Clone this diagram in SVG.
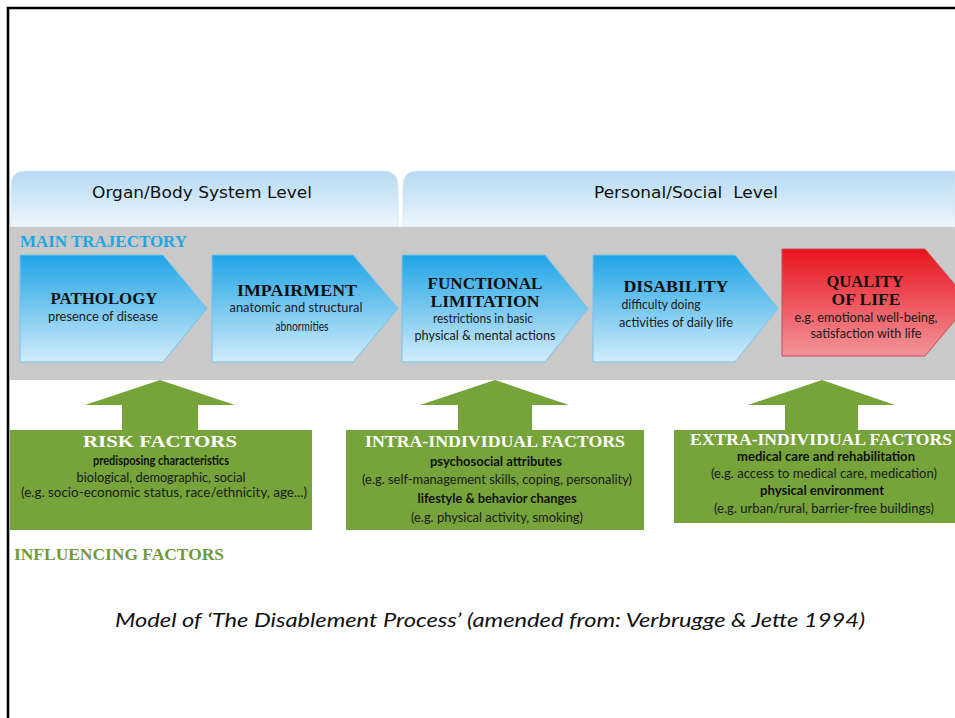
<svg xmlns="http://www.w3.org/2000/svg" width="955" height="718" viewBox="0 0 955 718">
<defs>
<linearGradient id="hdr" x1="0" y1="0" x2="0" y2="1"><stop offset="0" stop-color="#b5daf3"/><stop offset="1" stop-color="#eef6fc"/></linearGradient>
<linearGradient id="blu" x1="0" y1="0" x2="0" y2="1"><stop offset="0" stop-color="#1ea4e6"/><stop offset="1" stop-color="#d2ecfa"/></linearGradient>
<linearGradient id="red" x1="0" y1="0" x2="0" y2="1"><stop offset="0" stop-color="#e8141e"/><stop offset="1" stop-color="#f3959b"/></linearGradient>
</defs>
<style>
.hd{font-family:"DejaVu Sans",Verdana,sans-serif;font-size:15.5px;fill:#111;text-anchor:middle}
.tt{font-family:"Liberation Serif","Times New Roman",serif;font-weight:bold;font-size:17px;text-anchor:middle;fill:#111}
.sb{font-family:Lato,"Liberation Sans",sans-serif;font-size:13px;text-anchor:middle;fill:#1a1a1a}
.bd{font-family:Lato,"Liberation Sans",sans-serif;font-size:13px;font-weight:bold;text-anchor:middle;fill:#111}
.wt{fill:#ffffff}
.cb{fill:url(#blu);stroke:#74c2ea;stroke-width:1}
.cr{fill:url(#red);stroke:#cc4b55;stroke-width:1}
.gr{fill:#76a33a}
.lb{font-family:"Liberation Serif","Times New Roman",serif;font-weight:bold;font-size:16px}
</style>
<rect x="0" y="0" width="955" height="718" fill="#ffffff"/>
<path d="M8 718 V8 H955" fill="none" stroke="#000" stroke-width="2.6"/>

<g id="header-organ">
<path d="M11 227 V186 Q11 171 26 171 H383 Q398 171 398 186 V227 Z" fill="url(#hdr)" stroke="#d6e8f4" stroke-width="1"/>
<text class="hd" x="202" y="198" textLength="220" lengthAdjust="spacingAndGlyphs">Organ/Body System Level</text>
</g>
<g id="header-personal">
<path d="M403 227 V186 Q403 171 418 171 H955 V227 Z" fill="url(#hdr)" stroke="#d6e8f4" stroke-width="1"/>
<text class="hd" x="686" y="198" textLength="184" lengthAdjust="spacingAndGlyphs" xml:space="preserve">Personal/Social  Level</text>
</g>

<g id="main-band">
<rect x="10" y="227" width="945" height="153" fill="#c9c9c9"/>
<text class="lb" x="20" y="247" fill="#1fa6e0" textLength="167" lengthAdjust="spacingAndGlyphs">MAIN TRAJECTORY</text>
</g>

<g id="pathology">
<path class="cb" d="M20 255 H163 L207 308.5 L163 362 H20 Z"/>
<text class="tt" x="104" y="304" textLength="107" lengthAdjust="spacingAndGlyphs">PATHOLOGY</text>
<text class="sb" x="103" y="321" textLength="110" lengthAdjust="spacingAndGlyphs">presence of disease</text>
</g>
<g id="impairment">
<path class="cb" d="M212 255 H353 L398 308.5 L353 362 H212 Z"/>
<text class="tt" x="297" y="296" textLength="120" lengthAdjust="spacingAndGlyphs">IMPAIRMENT</text>
<text class="sb" x="296" y="312" textLength="133" lengthAdjust="spacingAndGlyphs">anatomic and structural</text>
<text class="sb" x="302" y="331" textLength="53" lengthAdjust="spacingAndGlyphs">abnormities</text>
</g>
<g id="functional-limitation">
<path class="cb" d="M402 255 H545 L588 308.5 L545 362 H402 Z"/>
<text class="tt" x="485" y="289" textLength="115" lengthAdjust="spacingAndGlyphs">FUNCTIONAL</text>
<text class="tt" x="485" y="307" textLength="109" lengthAdjust="spacingAndGlyphs">LIMITATION</text>
<text class="sb" x="483" y="323" textLength="100" lengthAdjust="spacingAndGlyphs">restrictions in basic</text>
<text class="sb" x="485" y="340" textLength="141" lengthAdjust="spacingAndGlyphs">physical &amp; mental actions</text>
</g>
<g id="disability">
<path class="cb" d="M593 255 H735 L778 308.5 L735 362 H593 Z"/>
<text class="tt" x="676" y="292" textLength="105" lengthAdjust="spacingAndGlyphs">DISABILITY</text>
<text class="sb" x="661" y="309" textLength="79" lengthAdjust="spacingAndGlyphs">difficulty doing</text>
<text class="sb" x="676" y="327" textLength="114" lengthAdjust="spacingAndGlyphs">activities of daily life</text>
</g>
<g id="quality-of-life">
<path class="cr" d="M782 249 H925 L970 302.5 L925 356 H782 Z"/>
<text class="tt" x="865" y="287" textLength="77" lengthAdjust="spacingAndGlyphs">QUALITY</text>
<text class="tt" x="866" y="305" textLength="69" lengthAdjust="spacingAndGlyphs">OF LIFE</text>
<text class="sb" x="866" y="322" textLength="143" lengthAdjust="spacingAndGlyphs">e.g. emotional well-being,</text>
<text class="sb" x="866" y="338" textLength="111" lengthAdjust="spacingAndGlyphs">satisfaction with life</text>
</g>

<g id="risk-factors">
<path class="gr" d="M160 380 L235 405 H198 V430 H312 V530 H10 V430 H122 V405 H85 Z"/>
<text class="tt wt" x="160" y="447" textLength="154" lengthAdjust="spacingAndGlyphs">RISK FACTORS</text>
<text class="bd" x="161" y="465" textLength="136" lengthAdjust="spacingAndGlyphs">predisposing characteristics</text>
<text class="sb" x="161" y="482" textLength="169" lengthAdjust="spacingAndGlyphs">biological, demographic, social</text>
<text class="sb" x="164" y="497" textLength="286" lengthAdjust="spacingAndGlyphs">(e.g. socio-economic status, race/ethnicity, age...)</text>
</g>
<g id="intra-individual-factors">
<path class="gr" d="M495 380 L569 405 H532 V430 H644 V530 H346 V430 H458 V405 H420 Z"/>
<text class="tt wt" x="495" y="447" textLength="260" lengthAdjust="spacingAndGlyphs">INTRA-INDIVIDUAL FACTORS</text>
<text class="bd" x="496" y="466" textLength="132" lengthAdjust="spacingAndGlyphs">psychosocial attributes</text>
<text class="sb" x="497" y="484" textLength="270" lengthAdjust="spacingAndGlyphs">(e.g. self-management skills, coping, personality)</text>
<text class="bd" x="497" y="503" textLength="159" lengthAdjust="spacingAndGlyphs">lifestyle &amp; behavior changes</text>
<text class="sb" x="497" y="522" textLength="172" lengthAdjust="spacingAndGlyphs">(e.g. physical activity, smoking)</text>
</g>
<g id="extra-individual-factors">
<path class="gr" d="M822 380 L895 405 H858 V430 H955 V523 H674 V430 H785 V405 H748 Z"/>
<text class="tt wt" x="821" y="445" textLength="262" lengthAdjust="spacingAndGlyphs">EXTRA-INDIVIDUAL FACTORS</text>
<text class="bd" x="826" y="461" textLength="178" lengthAdjust="spacingAndGlyphs">medical care and rehabilitation</text>
<text class="sb" x="824" y="478" textLength="226" lengthAdjust="spacingAndGlyphs">(e.g. access to medical care, medication)</text>
<text class="bd" x="822" y="495" textLength="124" lengthAdjust="spacingAndGlyphs">physical environment</text>
<text class="sb" x="824" y="513" textLength="220" lengthAdjust="spacingAndGlyphs">(e.g. urban/rural, barrier-free buildings)</text>
</g>

<g id="connectors"></g>

<text class="lb" x="14" y="560" fill="#6f9a38" textLength="210" lengthAdjust="spacingAndGlyphs">INFLUENCING FACTORS</text>
<text x="115" y="627" font-family="Lato,'Liberation Sans',sans-serif" font-style="italic" font-size="20" fill="#111" textLength="750" lengthAdjust="spacingAndGlyphs">Model of ‘The Disablement Process’ (amended from: Verbrugge &amp; Jette 1994)</text>
</svg>
